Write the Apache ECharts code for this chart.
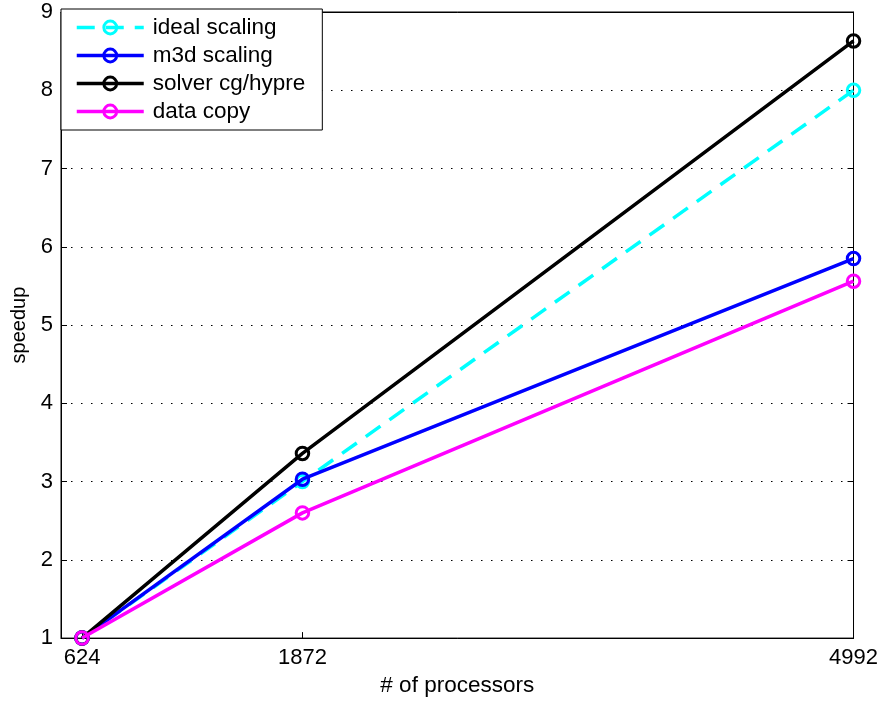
<!DOCTYPE html>
<html>
<head>
<meta charset="utf-8">
<script src="https://cdn.jsdelivr.net/npm/echarts@6/dist/echarts.min.js"></script>
<style>html,body{margin:0;padding:0;background:#fff}#c{width:881px;height:702px}</style>
</head>
<body>
<div id="c"></div>
<script>
const processors = [624, 1872, 4992];
const xTicks = [624, 1872, 4992];
const idealScaling = [1, 3, 8];
const m3dScaling = [1, 3.03, 5.85];
const solverCgHypre = [1, 3.36, 8.63];
const dataCopy = [1, 2.60, 5.56];
const seriesNames = ['ideal scaling', 'm3d scaling', 'solver cg/hypre', 'data copy'];
const seriesColors = ['#00ffff', '#0000ff', '#000000', '#ff00ff'];
const seriesValues = [idealScaling, m3dScaling, solverCgHypre, dataCopy];

const FONT = 'Liberation Sans, Arial, Helvetica, sans-serif';
const chart = echarts.init(document.getElementById('c'), null, {renderer: 'canvas'});

const series = seriesNames.map((name, i) => ({
  name: name,
  type: 'line',
  data: processors.map((p, j) => [p, seriesValues[i][j]]),
  symbol: 'circle',
  symbolSize: 12.5,
  showAllSymbol: true,
  lineStyle: {color: seriesColors[i], width: 3.5, type: i === 0 ? [18, 11] : 'solid'},
  itemStyle: {color: 'rgba(0,0,0,0)', borderColor: seriesColors[i], borderWidth: 3},
  emphasis: {disabled: true},
  animation: false,
  z: 2 + i
}));

const option = {
  animation: false,
  backgroundColor: '#fff',
  grid: {left: 61, right: 27, top: 12, bottom: 63, show: true, borderColor: '#000', borderWidth: 1, backgroundColor: '#fff'},
  legend: {
    orient: 'vertical', left: 61, top: 9,
    backgroundColor: '#fff', borderColor: '#000', borderWidth: 1,
    padding: [7, 17, 7, 14], itemGap: 5,
    itemWidth: 67, itemHeight: 16,
    lineStyle: {width: 3.5},
    itemStyle: {borderWidth: 3},
    textStyle: {fontFamily: FONT, fontSize: 22.5, color: '#000', padding: [0, 0, 0, 4]},
    data: seriesNames
  },
  xAxis: [{
    type: 'value', min: 505, max: 4992,
    name: '# of processors', nameLocation: 'middle', nameGap: 34,
    nameTextStyle: {fontFamily: FONT, fontSize: 22.5, color: '#000'},
    axisLine: {show: true, lineStyle: {color: '#000', width: 1}},
    axisTick: {show: true, inside: true, length: 6, customValues: xTicks, lineStyle: {color: '#000'}},
    axisLabel: {customValues: xTicks, formatter: v => String(v), fontFamily: FONT, fontSize: 22, color: '#000', margin: 9},
    splitLine: {show: false}
  }, {
    type: 'value', min: 505, max: 4992, position: 'top',
    axisLine: {show: true, lineStyle: {color: '#000', width: 1}},
    axisTick: {show: true, inside: true, length: 6, customValues: xTicks, lineStyle: {color: '#000'}},
    axisLabel: {show: false}, splitLine: {show: false}
  }],
  yAxis: [{
    type: 'value', min: 1, max: 9, interval: 1,
    name: 'speedup', nameLocation: 'middle', nameGap: 31,
    nameTextStyle: {fontFamily: FONT, fontSize: 20, color: '#000'},
    axisLine: {show: true, lineStyle: {color: '#000', width: 1}},
    axisTick: {show: true, inside: true, length: 6, lineStyle: {color: '#000'}},
    axisLabel: {fontFamily: FONT, fontSize: 22, color: '#000', margin: 8},
    splitLine: {show: true, lineStyle: {color: '#000', width: 1.2, type: [1.5, 8.5]}}
  }, {
    type: 'value', min: 1, max: 9, interval: 1, position: 'right',
    axisLine: {show: true, lineStyle: {color: '#000', width: 1}},
    axisTick: {show: true, inside: true, length: 6, lineStyle: {color: '#000'}},
    axisLabel: {show: false}, splitLine: {show: false}
  }],
  series: series
};
chart.setOption(option);
</script>
</body>
</html>
